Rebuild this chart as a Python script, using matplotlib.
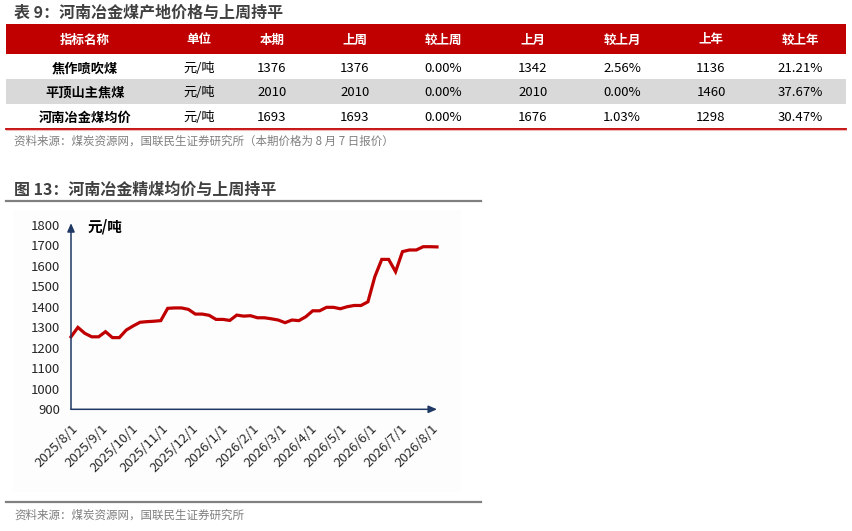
import matplotlib
matplotlib.use("Agg")
import matplotlib.pyplot as plt
import matplotlib.patches as mpatches
import pandas as pd

plt.rcParams['font.family'] = ['Noto Sans CJK SC', 'DejaVu Sans']

# ---------------- data ----------------
table_title = "表 9：河南冶金煤产地价格与上周持平"
table_header = ["指标名称", "单位", "本期", "上周", "较上周", "上月", "较上月", "上年", "较上年"]
row_names = ["焦作喷吹煤", "平顶山主焦煤", "河南冶金煤均价"]
row_units = ["元/吨", "元/吨", "元/吨"]
cur_week = ["1376", "2010", "1693"]
last_week = ["1376", "2010", "1693"]
chg_week = ["0.00%", "0.00%", "0.00%"]
last_month = ["1342", "2010", "1676"]
chg_month = ["2.56%", "0.00%", "1.03%"]
last_year = ["1136", "1460", "1298"]
chg_year = ["21.21%", "37.67%", "30.47%"]
table_source = "资料来源：煤炭资源网，国联民生证券研究所（本期价格为 8 月 7 日报价）"

chart_title = "图 13：河南冶金精煤均价与上周持平"
chart_source = "资料来源：煤炭资源网，国联民生证券研究所"
unit_label = "元/吨"
dates = pd.date_range("2025-08-01", "2026-08-07", freq="7D")
prices = [1254, 1300, 1271, 1254, 1254, 1279, 1250, 1250, 1287, 1307,
          1325, 1328, 1330, 1333, 1393, 1395, 1395, 1388, 1365, 1365,
          1359, 1339, 1339, 1334, 1360, 1355, 1357, 1347, 1347, 1342,
          1336, 1323, 1336, 1333, 1352, 1381, 1381, 1398, 1398, 1391,
          1401, 1407, 1407, 1425, 1548, 1632, 1632, 1572, 1670, 1678,
          1678, 1694, 1694, 1693]
month_ticks = pd.date_range("2025-08-01", "2026-08-01", freq="MS")
y_ticks = list(range(900, 1801, 100))

# ---------------- figure ----------------
W, H = 853, 531
fig = plt.figure(figsize=(W / 100, H / 100), dpi=100)
bg = fig.add_axes([0, 0, 1, 1])
bg.set_xlim(0, W)
bg.set_ylim(H, 0)
bg.axis("off")

RED = "#c00000"
GRAYTXT = "#404040"

# table title
bg.text(14, 13, table_title, fontsize=11.5, fontweight="bold", color=GRAYTXT,
        va="center", ha="left")

# header bar
bg.add_patch(mpatches.Rectangle((6, 24), 840, 30, color=RED, lw=0))
# gray row
bg.add_patch(mpatches.Rectangle((6, 78.5), 840, 25.5, color="#d9d9d9", lw=0))
# bottom line
bg.plot([6, 846], [128.5, 128.5], color=RED, lw=1.3)
bg.plot([6, 846], [130, 130], color="#f2b8b8", lw=0.8)

col_x = [85, 199, 272, 355, 443, 533, 622, 711, 800]
for x, h in zip(col_x, table_header):
    bg.text(x, 40, h, fontsize=9, fontweight="bold", color="white",
            ha="center", va="center")

row_y = [68.5, 92.5, 117.5]
cols = [row_names, row_units, cur_week, last_week, chg_week,
        last_month, chg_month, last_year, chg_year]
for ci, (x, col) in enumerate(zip(col_x, cols)):
    for ri, y in enumerate(row_y):
        bg.text(x, y, col[ri], fontsize=9.5,
                fontweight="bold" if ci == 0 else "normal",
                color="black", ha="center", va="center")

bg.text(14, 141, table_source, fontsize=8.3, color="#7f7f7f",
        ha="left", va="center")

# chart title and separators
bg.text(14, 190, chart_title, fontsize=11.5, fontweight="bold", color=GRAYTXT,
        ha="left", va="center")
bg.plot([6, 481], [201, 201], color="#808080", lw=1.6)
bg.plot([6, 481], [501.5, 501.5], color="#808080", lw=1.6)
bg.add_patch(mpatches.Rectangle((13, 210), 448, 282, color="#fdfdfd", lw=0))
bg.text(14, 515, chart_source, fontsize=8.3, color="#7f7f7f",
        ha="left", va="center")

# ---------------- line chart ----------------
x0, x1 = 71, 437
y0, y1 = 409.3, 225
ax = fig.add_axes([x0 / W, (H - y0) / H, (x1 - x0) / W, (y0 - y1) / H])
ax.patch.set_alpha(0)
ax.plot(dates, prices, color=RED, lw=2.3, solid_joinstyle="miter", clip_on=False)
ax.set_xlim(dates[0], dates[-1])
ax.set_ylim(900, 1800)
ax.set_yticks(y_ticks)
ax.set_yticklabels([str(v) for v in y_ticks])
ax.set_xticks(month_ticks)
ax.set_xticklabels([f"{d.year}/{d.month}/{d.day}" for d in month_ticks],
                   rotation=45, ha="right", rotation_mode="anchor")
ax.tick_params(axis="both", length=0, labelsize=9.5, colors="#262626")
ax.tick_params(axis="y", pad=8)
ax.tick_params(axis="x", pad=9)
for s in ax.spines.values():
    s.set_visible(False)

AXC = "#1f3864"
ax.annotate("", xy=(1.0, 0), xytext=(0, 0), xycoords="axes fraction",
            arrowprops=dict(arrowstyle="-|>,head_length=0.5,head_width=0.22",
                            color=AXC, lw=1.1, shrinkA=0, shrinkB=0))
ax.annotate("", xy=(0, 1.01), xytext=(0, 0), xycoords="axes fraction",
            arrowprops=dict(arrowstyle="-|>,head_length=0.5,head_width=0.22",
                            color=AXC, lw=1.1, shrinkA=0, shrinkB=0))

bg.text(88, 227, unit_label, fontsize=10.5, fontweight="bold", color="black",
        ha="left", va="center")

fig.savefig("out.png", dpi=100)
